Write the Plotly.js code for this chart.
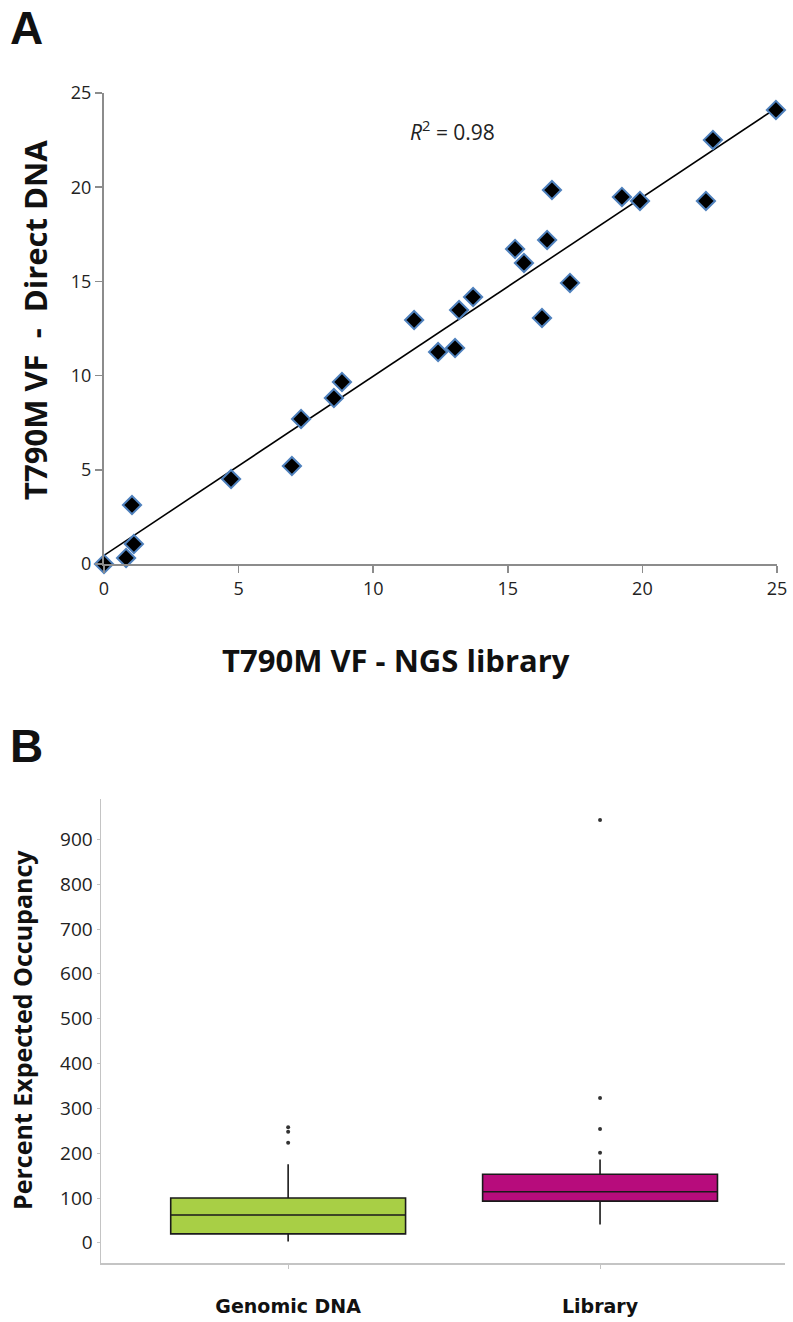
<!DOCTYPE html>
<html>
<head>
<meta charset="utf-8">
<script src="https://cdn.plot.ly/plotly-3.0.1.min.js"></script>
<style>
  body { margin: 0; background: #fff; }
  #chart { width: 793px; height: 1322px; }
</style>
</head>
<body>
<div id="chart"></div>
<script>
// panel A: T790M variant fraction, NGS library vs direct DNA
var ngsVF = [0, 0.82, 1.04, 1.11, 4.72, 6.98, 7.32, 8.54, 8.84, 11.52, 12.41, 13.04, 13.19,
             13.71, 15.27, 15.60, 16.27, 16.46, 16.64, 17.31, 19.24, 19.91, 22.36, 22.62, 24.96];
var directVF = [0, 0.32, 3.13, 1.06, 4.51, 5.20, 7.70, 8.81, 9.66, 12.95, 11.25, 11.46, 13.48,
                14.17, 16.72, 15.98, 13.06, 17.20, 19.85, 14.92, 19.48, 19.27, 19.27, 22.51, 24.10];
var rSquared = "0.98";

// panel B: percent expected occupancy box summaries
var groups = ["Genomic DNA", "Library"];
var q1 = [20, 93];
var medians = [62, 114];
var q3 = [100, 153];
var lowFence = [3, 41];
var highFence = [175, 186];
var gdnaOutliers = [223, 248, 258];
var libOutliers = [201, 254, 323, 943];
var boxColors = ["#a8cf45", "#b70c7c"];

var W = 793, H = 1322;
function px(x) { return x / W; }
function py(y) { return 1 - y / H; }

// least squares trendline
var n = ngsVF.length, sx = 0, sy = 0, sxx = 0, sxy = 0;
for (var i = 0; i < n; i++) {
    sx += ngsVF[i]; sy += directVF[i];
    sxx += ngsVF[i] * ngsVF[i]; sxy += ngsVF[i] * directVF[i];
}
var slope = (n * sxy - sx * sy) / (n * sxx - sx * sx);
var icept = (sy - slope * sx) / n;
var fitX = [0, Math.max.apply(Math, ngsVF)];
var fitY = fitX.map(function (v) { return icept + slope * v; });

var tickFont = { family: "Open Sans, sans-serif", size: 18, color: "#222" };
var tickFont2 = { family: "Open Sans, sans-serif", size: 19, color: "#222" };
var titleFont = { family: "Open Sans, sans-serif", size: 31, color: "#111", weight: "bold" };
var panelFont = { family: "Liberation Sans, Arial, sans-serif", size: 46, color: "#111", weight: "bold" };

var data = [
    {
        x: fitX, y: fitY, mode: "lines", type: "scatter",
        line: { color: "#000", width: 1.6 },
        xaxis: "x", yaxis: "y", hoverinfo: "skip", cliponaxis: false
    },
    {
        x: ngsVF, y: directVF, mode: "markers", type: "scatter",
        marker: { symbol: "diamond", size: 14, color: "#000", line: { color: "#4f81bd", width: 2 } },
        xaxis: "x", yaxis: "y", cliponaxis: false
    }
];

groups.forEach(function (g, i) {
    data.push({
        type: "box", name: g, x: [g],
        q1: [q1[i]], median: [medians[i]], q3: [q3[i]],
        lowerfence: [lowFence[i]], upperfence: [highFence[i]],
        fillcolor: boxColors[i], width: 0.753, whiskerwidth: 0,
        line: { color: "#1a1a1a", width: 1.6 },
        boxpoints: false, xaxis: "x2", yaxis: "y2"
    });
});

data.push({
    x: gdnaOutliers.map(function () { return groups[0]; }), y: gdnaOutliers,
    mode: "markers", type: "scatter", marker: { size: 4, color: "#333" },
    xaxis: "x2", yaxis: "y2"
});
data.push({
    x: libOutliers.map(function () { return groups[1]; }), y: libOutliers,
    mode: "markers", type: "scatter", marker: { size: 4, color: "#333" },
    xaxis: "x2", yaxis: "y2"
});

var layout = {
    width: W, height: H,
    margin: { l: 0, r: 0, t: 0, b: 0 },
    paper_bgcolor: "#fff", plot_bgcolor: "#fff",
    showlegend: false,
    xaxis: {
        domain: [px(104), px(777)], anchor: "y",
        range: [0, 25], dtick: 5, showgrid: false, zeroline: false,
        showline: true, linecolor: "#8c8c8c", linewidth: 2,
        ticks: "outside", ticklen: 7, tickcolor: "#8c8c8c", tickwidth: 1.5,
        tickfont: tickFont
    },
    yaxis: {
        domain: [py(564), py(93)], anchor: "x",
        range: [0, 25], dtick: 5, showgrid: false, zeroline: false,
        showline: true, linecolor: "#8c8c8c", linewidth: 2,
        ticks: "outside", ticklen: 7, tickcolor: "#8c8c8c", tickwidth: 1.5,
        tickfont: tickFont
    },
    xaxis2: {
        domain: [px(101), px(785)], anchor: "y2",
        type: "category", range: [-0.6, 1.593], showgrid: false, zeroline: false,
        showline: true, linecolor: "#c4c4c4", linewidth: 1.5,
        ticks: "outside", ticklen: 4, tickcolor: "#c4c4c4",
        ticklabelstandoff: 22,
        tickfont: { family: "DejaVu Sans, sans-serif", size: 19, color: "#111", weight: "bold" }
    },
    yaxis2: {
        domain: [py(1263), py(799)], anchor: "x2",
        range: [-45, 990], dtick: 100, tick0: 0, showgrid: false, zeroline: false,
        showline: true, linecolor: "#c4c4c4", linewidth: 1.5,
        ticks: "outside", ticklen: 3, tickcolor: "#c4c4c4",
        tickfont: tickFont2
    },
    annotations: [
        { text: "A", xref: "paper", yref: "paper", x: px(26), y: 1,
          xanchor: "center", yanchor: "top", showarrow: false, font: panelFont },
        { text: "B", xref: "paper", yref: "paper", x: px(26), y: py(746),
          xanchor: "center", yanchor: "middle", showarrow: false, font: panelFont },
        { text: "<i>R</i><sup>2</sup> = " + rSquared, xref: "x", yref: "y",
          x: 12.96, y: 23.0, xanchor: "center", yanchor: "middle", showarrow: false,
          font: { family: "Open Sans, sans-serif", size: 21, color: "#222" } },
        { text: "T790M VF\u00a0\u00a0-\u00a0\u00a0Direct DNA", xref: "paper", yref: "paper",
          x: px(35), y: py(320), xanchor: "center", yanchor: "middle",
          textangle: -90, showarrow: false, font: titleFont },
        { text: "T790M VF - NGS library", xref: "paper", yref: "paper", x: px(396), y: py(660),
          xanchor: "center", yanchor: "middle", showarrow: false, font: titleFont },
        { text: "Percent Expected Occupancy", xref: "paper", yref: "paper", x: px(22), y: py(1030),
          xanchor: "center", yanchor: "middle", textangle: -90, showarrow: false,
          font: { family: "Open Sans, sans-serif", size: 25, color: "#111", weight: "bold" } }
    ]
};

Plotly.newPlot("chart", data, layout, { staticPlot: true });
</script>
</body>
</html>
